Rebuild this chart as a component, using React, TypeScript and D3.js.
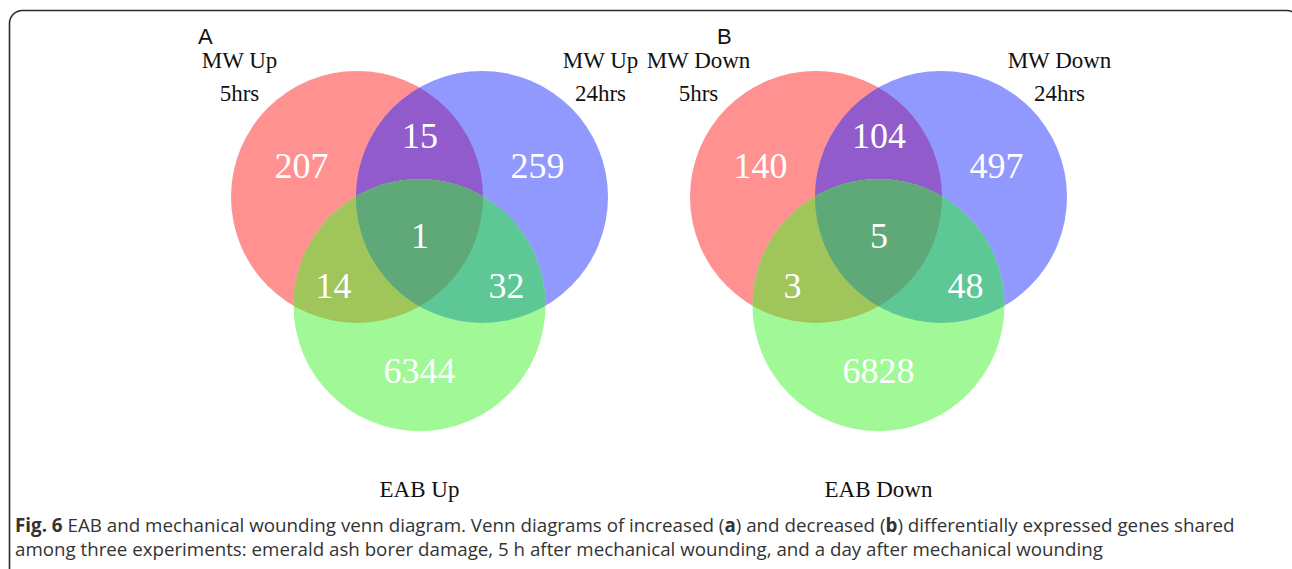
import React, { useRef, useEffect } from "react";
import * as d3 from "d3";

// region order: R only, B only, G only, R&B, R&G, B&G, R&B&G
const countsUp = [207, 259, 6344, 15, 14, 32, 1];
const countsDown = [140, 497, 6828, 104, 3, 48, 5];
const panelLetters = ["A", "B"];
const leftLabels = [["MW Up", "5hrs"], ["MW Down", "5hrs"]];
const rightLabels = [["MW Up", "24hrs"], ["MW Down", "24hrs"]];
const bottomLabels = ["EAB Up", "EAB Down"];
const setColors = ["#ff9191", "#9199ff", "#a0f996"];
const overlapColors = { rb: "#915bcb", rg: "#a0c55a", bg: "#5dc795", rbg: "#5fa878" };

const W = 1292;
const H = 569;

const App = () => {
  const ref = useRef<SVGSVGElement>(null);

  useEffect(() => {
    if (!ref.current) return;
    const svg = d3.select(ref.current);
    svg.selectAll("*").remove();

    // frame
    svg.append("rect")
      .attr("x", 9.5).attr("y", 10.5)
      .attr("width", 1290).attr("height", 600)
      .attr("rx", 13)
      .attr("fill", "none").attr("stroke", "#2b2b2b").attr("stroke-width", 1.6);

    const r = 126;
    const side = 125;
    const cy = 233;
    const panelX = d3.scaleOrdinal<string, number>().domain(panelLetters).range([419.5, 878.5]);
    const letterX = [198, 717];
    const data = [countsUp, countsDown];

    // relative label spots per region
    const spots = [
      [-118, -67], [118, -67], [0, 138], [0.5, -97.5], [-86, 52.5], [87, 52.5], [0.5, 2.5],
    ];

    const defs = svg.append("defs");
    const serif = "'Liberation Serif', 'Times New Roman', serif";

    panelLetters.forEach((p, pi) => {
      const cx = panelX(p);
      const centers = [
        [cx - side / 2, cy - side / (2 * Math.sqrt(3))],
        [cx + side / 2, cy - side / (2 * Math.sqrt(3))],
        [cx, cy + side / Math.sqrt(3)],
      ];
      ["r", "b"].forEach((k, i) => {
        defs.append("clipPath").attr("id", `clip-${p}-${k}`)
          .append("circle").attr("cx", centers[i][0]).attr("cy", centers[i][1]).attr("r", r);
      });

      const g = svg.append("g");
      const circ = (sel: any, i: number, fill: string) =>
        sel.append("circle").attr("cx", centers[i][0]).attr("cy", centers[i][1]).attr("r", r).attr("fill", fill);

      circ(g, 0, setColors[0]);
      circ(g, 1, setColors[1]);
      circ(g, 1, overlapColors.rb).attr("clip-path", `url(#clip-${p}-r)`);
      circ(g, 2, setColors[2]);
      circ(g, 2, overlapColors.rg).attr("clip-path", `url(#clip-${p}-r)`);
      circ(g, 2, overlapColors.bg).attr("clip-path", `url(#clip-${p}-b)`);
      const inner = g.append("g").attr("clip-path", `url(#clip-${p}-r)`);
      circ(inner, 2, overlapColors.rbg).attr("clip-path", `url(#clip-${p}-b)`);

      g.selectAll("text.count")
        .data(data[pi])
        .join("text")
        .attr("class", "count")
        .attr("x", (_d, i) => cx + spots[i][0])
        .attr("y", (_d, i) => cy + spots[i][1] + 12)
        .attr("text-anchor", "middle")
        .attr("font-family", serif)
        .attr("font-size", 36)
        .attr("fill", "#ffffff")
        .text((d) => d);

      // panel letter
      svg.append("text")
        .attr("x", letterX[pi]).attr("y", 44)
        .attr("font-family", "'Liberation Sans', Arial, sans-serif")
        .attr("font-size", 22)
        .attr("fill", "#111")
        .text(p);

      [[leftLabels[pi], -180], [rightLabels[pi], 181]].forEach(([lines, dx]: any) => {
        lines.forEach((t: string, li: number) => {
          svg.append("text")
            .attr("x", cx + dx).attr("y", 68 + li * 33)
            .attr("text-anchor", "middle")
            .attr("font-family", serif).attr("font-size", 23)
            .attr("fill", "#111")
            .text(t);
        });
      });
      svg.append("text")
        .attr("x", cx).attr("y", 497)
        .attr("text-anchor", "middle")
        .attr("font-family", serif).attr("font-size", 23)
        .attr("fill", "#111")
        .text(bottomLabels[pi]);
    });

    // caption, fitted to the reference line widths
    const sans = "'Open Sans', 'Noto Sans', sans-serif";
    const g1 = svg.append("g");
    const l1 = g1.append("text")
      .attr("x", 0).attr("y", 532)
      .attr("font-family", sans).attr("font-size", 19).attr("fill", "#333");
    l1.append("tspan").attr("font-weight", "bold").text("Fig. 6");
    l1.append("tspan").text(" EAB and mechanical wounding venn diagram. Venn diagrams of increased (");
    l1.append("tspan").attr("font-weight", "bold").text("a");
    l1.append("tspan").text(") and decreased (");
    l1.append("tspan").attr("font-weight", "bold").text("b");
    l1.append("tspan").text(") differentially expressed genes shared");
    const g2 = svg.append("g");
    const l2 = g2.append("text")
      .attr("x", 0).attr("y", 556)
      .attr("font-family", sans).attr("font-size", 19).attr("fill", "#333")
      .text("among three experiments: emerald ash borer damage, 5 h after mechanical wounding, and a day after mechanical wounding");
    const w1 = (l1.node() as SVGTextElement).getComputedTextLength();
    const w2 = (l2.node() as SVGTextElement).getComputedTextLength();
    g1.attr("transform", `translate(15,0) scale(${1221 / w1},1)`);
    g2.attr("transform", `translate(15,0) scale(${1088 / w2},1)`);
  }, []);

  return (
    <svg
      ref={ref}
      width={W}
      height={H}
      style={{ position: "absolute", left: 0, top: 0, background: "#fff" }}
    />
  );
};

export default App;
